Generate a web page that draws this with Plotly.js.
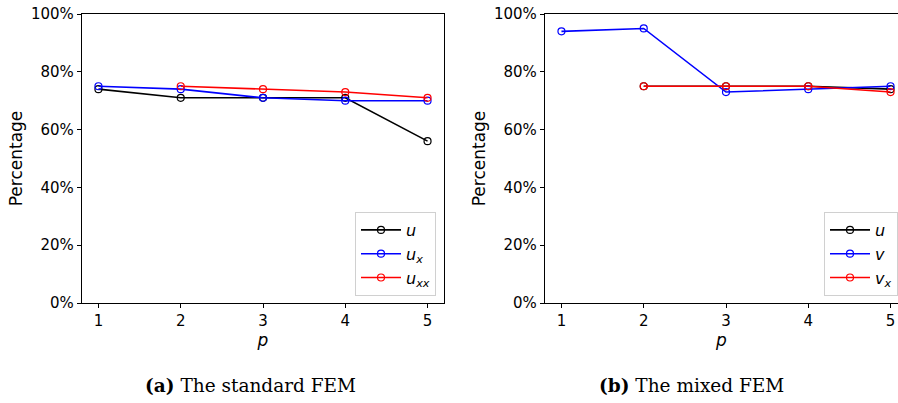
<!DOCTYPE html>
<html>
<head>
<meta charset="utf-8">
<script src="https://cdn.plot.ly/plotly-3.0.1.min.js"></script>
<style>html,body{margin:0;padding:0;background:#fff;}#chart{width:898px;height:403px;}</style>
</head>
<body>
<div id="chart"></div>
<script>
// Polynomial degree p
const p = [1, 2, 3, 4, 5];

// (a) The standard FEM (percentages)
const stdU   = [74, 71, 71, 71, 56];
const stdUx  = [75, 74, 71, 70, 70];
const stdPxx = [2, 3, 4, 5];
const stdUxx = [75, 74, 73, 71];

// (b) The mixed FEM (percentages)
const mixPu = [2, 3, 4, 5];
const mixU  = [75, 75, 75, 74];
const mixV  = [94, 95, 73, 74, 75];
const mixPvx = [2, 3, 4, 5];
const mixVx = [75, 75, 75, 73];

const labelsA = ['<i>u</i>', '<i>u</i><sub><i>x</i></sub>', '<i>u</i><sub><i>xx</i></sub>'];
const labelsB = ['<i>u</i>', '<i>v</i>', '<i>v</i><sub><i>x</i></sub>'];
const yTicks = [0, 20, 40, 60, 80, 100];
const yTickText = ['0%', '20%', '40%', '60%', '80%', '100%'];
const captions = ['<b>(a)</b> The standard FEM', '<b>(b)</b> The mixed FEM'];

const W = 898, H = 403;
function mk(x, y, color, name, xa, ya, leg) {
  return {
    x: x, y: y, name: name, type: 'scatter', mode: 'lines+markers',
    xaxis: xa, yaxis: ya, legend: leg,
    line: {color: color, width: 1.6},
    marker: {symbol: 'circle-open', size: 7, color: color, line: {width: 1.2, color: color}}
  };
}

const traces = [
  mk(p, stdU, 'black', labelsA[0], 'x', 'y', 'legend'),
  mk(p, stdUx, 'blue', labelsA[1], 'x', 'y', 'legend'),
  mk(stdPxx, stdUxx, 'red', labelsA[2], 'x', 'y', 'legend'),
  mk(mixPu, mixU, 'black', labelsB[0], 'x2', 'y2', 'legend2'),
  mk(p, mixV, 'blue', labelsB[1], 'x2', 'y2', 'legend2'),
  mk(mixPvx, mixVx, 'red', labelsB[2], 'x2', 'y2', 'legend2')
];

const font = {family: 'DejaVu Sans', size: 15, color: '#000'};
function xax(domain, range, mirror) {
  return {
    domain: domain, range: range, tickvals: p, ticks: 'outside', ticklen: 4,
    tickwidth: 1, tickcolor: '#000', showline: true, linecolor: '#000', linewidth: 1.2,
    mirror: mirror, showgrid: false, zeroline: false, tickfont: font,
    title: {text: '<i>p</i>', font: {family: 'DejaVu Sans', size: 17, color: '#000'}, standoff: 0}
  };
}
function yax(anchor, mirror) {
  return {
    domain: [100 / H, 389 / H], range: [0, 100], anchor: anchor,
    tickmode: 'array', tickvals: yTicks, ticktext: yTickText, ticks: 'outside', ticklen: 4,
    tickwidth: 1, tickcolor: '#000', showline: true, linecolor: '#000', linewidth: 1.2,
    mirror: mirror, showgrid: false, zeroline: false, tickfont: font,
    title: {text: 'Percentage', font: {family: 'DejaVu Sans', size: 17, color: '#000'}, standoff: 4}
  };
}
const legBase = {
  bgcolor: 'rgba(255,255,255,0.85)', bordercolor: '#d0d0d0', borderwidth: 1,
  font: {family: 'DejaVu Sans', size: 16, color: '#000'},
  xanchor: 'right', yanchor: 'bottom', yref: 'paper', xref: 'paper',
  tracegroupgap: 0, itemwidth: 40
};

const layout = {
  width: W, height: H, margin: {l: 0, r: 0, t: 0, b: 0},
  paper_bgcolor: '#fff', plot_bgcolor: '#fff', showlegend: true,
  xaxis: xax([82 / W, 444 / W], [0.8, 5.2], true),
  yaxis: yax('x', true),
  xaxis2: Object.assign(xax([545 / W, 1], [0.8, 0.8 + 353 / (362 / 4.4)], true), {anchor: 'y2'}),
  yaxis2: yax('x2', false),
  legend: Object.assign({}, legBase, {x: 436 / W, y: (H - 296) / H}),
  legend2: Object.assign({}, legBase, {x: 898 / W, y: (H - 296) / H}),
  annotations: [
    {text: captions[0], xref: 'paper', yref: 'paper', x: 250 / W, y: (H - 385) / H,
     xanchor: 'center', yanchor: 'middle',
     showarrow: false, font: {family: 'DejaVu Serif', size: 18.5, color: '#000'}},
    {text: captions[1], xref: 'paper', yref: 'paper', x: 691 / W, y: (H - 385) / H,
     xanchor: 'center', yanchor: 'middle',
     showarrow: false, font: {family: 'DejaVu Serif', size: 18.5, color: '#000'}}
  ]
};

Plotly.newPlot('chart', traces, layout, {displayModeBar: false, staticPlot: true});
</script>
</body>
</html>
